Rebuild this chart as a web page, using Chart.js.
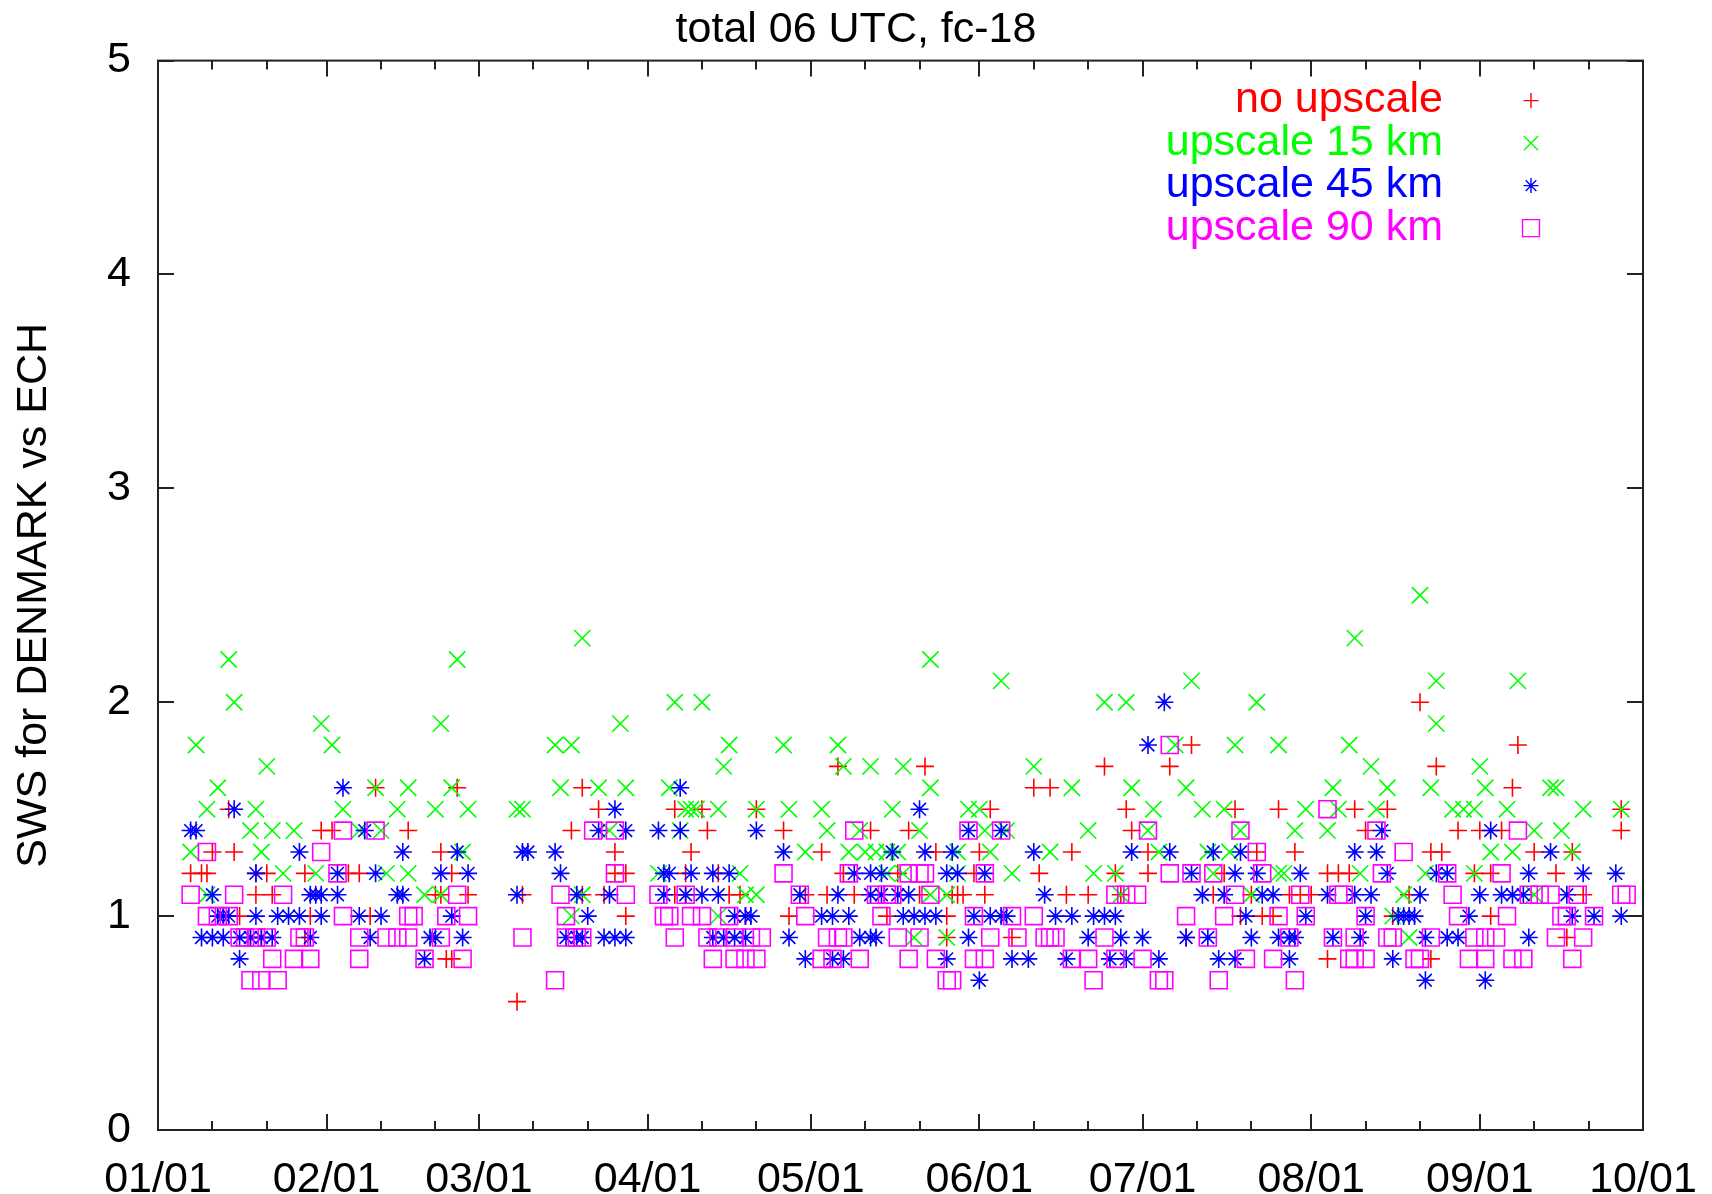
<!DOCTYPE html>
<html>
<head>
<meta charset="utf-8">
<title>SWS for DENMARK vs ECH</title>
<script src="https://cdn.jsdelivr.net/npm/chart.js@4.4.1/dist/chart.umd.min.js"></script>
<style>
  html, body { margin: 0; padding: 0; background: #fff; }
  #wrap { width: 1712px; height: 1194px; position: relative; }
</style>
</head>
<body>
<div id="wrap"><canvas id="swsChart"></canvas></div>
<script>
// x axis: day of year (0 = 01/01)
const monthDays = [0, 31, 59, 90, 120, 151, 181, 212, 243, 273];
const monthLabels = ['01/01', '02/01', '03/01', '04/01', '05/01', '06/01', '07/01', '08/01', '09/01', '10/01'];
const minorDays = [10, 20, 41, 51, 69, 79, 100, 110, 130, 140, 161, 171, 191, 201, 222, 232, 253, 263];
const yTicks = [0, 1, 2, 3, 4, 5];

const seriesNames = ['no upscale', 'upscale 15 km', 'upscale 45 km', 'upscale 90 km'];

// [day, SWS]
const noUpscale = [
  [13,1.5],[30,1.4],[32,1.4],[10,1.3],[14,1.3],[6,1.2],[8,1.2],[9,1.2],[18,1.2],[20,1.2],[27,1.2],
  [18,1.1],[21,1.1],[15,1.0],[28,1.0],[27,0.9],[17,0.9],[19,0.9],
  [40,1.6],[55,1.6],[46,1.4],[52,1.3],[35,1.2],[37,1.2],[54,1.2],[51,1.1],[52,1.1],[57,1.1],[39,1.0],
  [53,0.8],[54,0.8],[66,0.6],
  [78,1.6],[81,1.5],[95,1.5],[100,1.5],[76,1.4],[101,1.4],[84,1.3],[98,1.3],[84,1.2],[86,1.2],[97,1.2],
  [67,1.1],[78,1.1],[82,1.1],[95,1.1],[97,1.1],[86,1.0],
  [125,1.7],[110,1.5],[115,1.4],[131,1.4],[122,1.3],[103,1.2],[126,1.2],[105,1.1],[107,1.1],
  [119,1.1],[123,1.1],[128,1.1],[108,1.0],[116,1.0],
  [141,1.7],[161,1.6],[164,1.6],[153,1.5],[138,1.4],[143,1.3],[151,1.3],[168,1.3],[136,1.2],[150,1.2],
  [162,1.2],[140,1.1],[146,1.1],[147,1.1],[148,1.1],[152,1.1],[167,1.1],[134,1.0],[145,1.0],[145,0.9],[157,0.9],
  [174,1.7],[186,1.7],[190,1.8],[178,1.5],[198,1.5],[179,1.4],[182,1.3],[202,1.3],[176,1.2],[182,1.2],
  [196,1.2],[171,1.1],[177,1.1],[194,1.1],[199,1.0],[189,0.9],
  [232,2.0],[235,1.7],[206,1.5],[220,1.5],[226,1.5],[222,1.4],[209,1.3],[234,1.3],[215,1.2],[217,1.2],
  [219,1.2],[201,1.1],[208,1.1],[210,1.1],[212,1.1],[230,1.1],[203,1.0],[205,1.0],[227,1.0],[215,0.8],[234,0.8],
  [250,1.8],[249,1.6],[269,1.5],[239,1.4],[243,1.4],[247,1.4],[269,1.4],[236,1.3],[253,1.3],[260,1.3],
  [242,1.2],[245,1.2],[257,1.2],[262,1.1],[245,1.0],[259,0.9]
];

const upscale15 = [
  [13,2.2],[14,2.0],[30,1.9],[32,1.8],[7,1.8],[20,1.7],[11,1.6],[9,1.5],[18,1.5],[34,1.5],[17,1.4],[21,1.4],
  [25,1.4],[6,1.3],[19,1.3],[23,1.2],[29,1.2],[9,1.1],
  [55,2.2],[52,1.9],[40,1.6],[46,1.6],[54,1.6],[44,1.5],[51,1.5],[57,1.5],[66,1.5],[37,1.4],[41,1.4],
  [56,1.3],[42,1.2],[46,1.2],[49,1.1],[52,1.1],
  [78,2.3],[95,2.0],[100,2.0],[85,1.9],[73,1.8],[76,1.8],[74,1.6],[81,1.6],[86,1.6],[94,1.6],[67,1.5],
  [97,1.5],[98,1.5],[99,1.5],[83,1.4],[96,1.4],[92,1.2],[78,1.1],[76,1.0],
  [105,1.8],[115,1.8],[125,1.8],[104,1.7],[126,1.7],[131,1.7],[103,1.5],[110,1.5],[116,1.5],[122,1.5],
  [135,1.5],[123,1.4],[129,1.4],[119,1.3],[127,1.3],[130,1.3],[132,1.3],[134,1.3],[107,1.2],[108,1.1],
  [110,1.1],[103,1.0],
  [142,2.2],[155,2.1],[137,1.7],[161,1.7],[142,1.6],[168,1.6],[149,1.5],[151,1.5],[140,1.4],[152,1.4],
  [156,1.4],[136,1.3],[147,1.3],[153,1.3],[164,1.3],[134,1.2],[137,1.2],[147,1.2],[157,1.2],[142,1.1],
  [145,1.1],[139,0.9],[145,0.9],
  [190,2.1],[174,2.0],[178,2.0],[202,2.0],[187,1.8],[198,1.8],[179,1.6],[189,1.6],[183,1.5],[192,1.5],
  [196,1.5],[171,1.4],[182,1.4],[199,1.4],[184,1.3],[193,1.3],[197,1.3],[172,1.2],[176,1.2],[194,1.2],
  [177,1.1],[201,1.1],
  [232,2.5],[220,2.3],[235,2.1],[235,1.9],[206,1.8],[219,1.8],[223,1.7],[216,1.6],[226,1.6],[234,1.6],
  [211,1.5],[217,1.5],[224,1.5],[209,1.4],[215,1.4],[206,1.2],[207,1.2],[221,1.2],[233,1.2],[229,1.1],
  [227,1.0],[230,0.9],
  [250,2.1],[243,1.7],[244,1.6],[256,1.6],[257,1.6],[238,1.5],[240,1.5],[242,1.5],[248,1.5],[262,1.5],
  [269,1.5],[253,1.4],[258,1.4],[245,1.3],[249,1.3],[260,1.3],[242,1.2],[253,1.1]
];

const upscale45 = [
  [14,1.5],[6,1.4],[7,1.4],[26,1.3],[18,1.2],[10,1.1],[28,1.1],[29,1.1],[30,1.1],[11,1.0],[12,1.0],[13,1.0],
  [18,1.0],[22,1.0],[24,1.0],[26,1.0],[30,1.0],[8,0.9],[10,0.9],[12,0.9],[15,0.9],[17,0.9],[19,0.9],
  [21,0.9],[28,0.9],[15,0.8],
  [34,1.6],[38,1.4],[45,1.3],[55,1.3],[67,1.3],[33,1.2],[40,1.2],[52,1.2],[57,1.2],[33,1.1],[44,1.1],
  [45,1.1],[66,1.1],[37,1.0],[41,1.0],[54,1.0],[39,0.9],[50,0.9],[51,0.9],[56,0.9],[49,0.8],
  [96,1.6],[84,1.5],[81,1.4],[86,1.4],[92,1.4],[96,1.4],[68,1.3],[73,1.3],[74,1.2],[93,1.2],[94,1.2],
  [98,1.2],[77,1.1],[83,1.1],[93,1.1],[97,1.1],[100,1.1],[79,1.0],[75,0.9],[77,0.9],[78,0.9],[82,0.9],
  [84,0.9],[86,0.9],
  [110,1.4],[115,1.3],[135,1.3],[102,1.2],[105,1.2],[128,1.2],[131,1.2],[133,1.2],[103,1.1],[118,1.1],
  [125,1.1],[131,1.1],[133,1.1],[106,1.0],[108,1.0],[109,1.0],[122,1.0],[124,1.0],[127,1.0],[102,0.9],
  [104,0.9],[106,0.9],[108,0.9],[116,0.9],[129,0.9],[131,0.9],[132,0.9],[119,0.8],[124,0.8],[126,0.8],
  [140,1.5],[149,1.4],[155,1.4],[141,1.3],[146,1.3],[161,1.3],[145,1.2],[147,1.2],[152,1.2],[136,1.1],
  [138,1.1],[163,1.1],[137,1.0],[139,1.0],[141,1.0],[143,1.0],[150,1.0],[153,1.0],[155,1.0],[156,1.0],
  [165,1.0],[168,1.0],[149,0.9],[145,0.8],[157,0.8],[160,0.8],[167,0.8],[151,0.7],
  [185,2.0],[182,1.8],[179,1.3],[186,1.3],[194,1.3],[199,1.3],[190,1.2],[198,1.2],[192,1.1],[196,1.1],
  [172,1.0],[174,1.0],[176,1.0],[200,1.0],[171,0.9],[177,0.9],[181,0.9],[189,0.9],[193,0.9],[201,0.9],
  [175,0.8],[178,0.8],[184,0.8],[195,0.8],[198,0.8],
  [225,1.4],[220,1.3],[224,1.3],[202,1.2],[210,1.2],[226,1.2],[203,1.1],[205,1.1],[215,1.1],[220,1.1],
  [223,1.1],[232,1.1],[211,1.0],[222,1.0],[228,1.0],[229,1.0],[230,1.0],[231,1.0],[206,0.9],[208,0.9],
  [209,0.9],[216,0.9],[221,0.9],[233,0.9],[208,0.8],[227,0.8],[233,0.7],
  [245,1.4],[256,1.3],[235,1.2],[237,1.2],[252,1.2],[262,1.2],[268,1.2],[243,1.1],[247,1.1],[249,1.1],
  [251,1.1],[259,1.1],[241,1.0],[260,1.0],[264,1.0],[269,1.0],[237,0.9],[239,0.9],[252,0.9],[244,0.7]
];

const upscale90 = [
  [9,1.3],[30,1.3],[6,1.1],[14,1.1],[23,1.1],[9,1.0],[11,1.0],[13,1.0],[15,0.9],[16,0.9],[18,0.9],
  [20,0.9],[26,0.9],[27,0.9],[21,0.8],[25,0.8],[28,0.8],[17,0.7],[19,0.7],[22,0.7],
  [34,1.4],[40,1.4],[33,1.2],[55,1.1],[34,1.0],[46,1.0],[47,1.0],[53,1.0],[57,1.0],[37,0.9],[42,0.9],
  [44,0.9],[46,0.9],[52,0.9],[67,0.9],[37,0.8],[49,0.8],[56,0.8],
  [80,1.4],[84,1.4],[84,1.2],[74,1.1],[86,1.1],[92,1.1],[97,1.1],[75,1.0],[93,1.0],[94,1.0],[98,1.0],
  [100,1.0],[75,0.9],[77,0.9],[78,0.9],[95,0.9],[101,0.9],[102,0.8],[73,0.7],
  [128,1.4],[115,1.2],[127,1.2],[118,1.1],[132,1.1],[134,1.1],[105,1.0],[119,1.0],[133,1.0],[103,0.9],
  [106,0.9],[109,0.9],[111,0.9],[123,0.9],[125,0.9],[126,0.9],[106,0.8],[108,0.8],[110,0.8],[122,0.8],
  [124,0.8],[129,0.8],
  [149,1.4],[155,1.4],[138,1.2],[140,1.2],[141,1.2],[152,1.2],[135,1.1],[142,1.1],[150,1.0],[157,1.0],
  [161,1.0],[136,0.9],[140,0.9],[153,0.9],[158,0.9],[163,0.9],[164,0.9],[165,0.9],[138,0.8],[143,0.8],
  [150,0.8],[152,0.8],[168,0.8],[145,0.7],[146,0.7],
  [186,1.8],[182,1.4],[199,1.4],[186,1.2],[190,1.2],[194,1.2],[176,1.1],[178,1.1],[180,1.1],[198,1.1],
  [189,1.0],[196,1.0],[174,0.9],[193,0.9],[171,0.8],[176,0.8],[181,0.8],[200,0.8],[172,0.7],[184,0.7],
  [185,0.7],[195,0.7],
  [215,1.5],[224,1.4],[202,1.3],[229,1.3],[203,1.2],[225,1.2],[210,1.1],[217,1.1],[218,1.1],[206,1.0],
  [211,1.0],[222,1.0],[208,0.9],[216,0.9],[220,0.9],[226,0.9],[227,0.9],[234,0.9],[205,0.8],[219,0.8],
  [220,0.8],[222,0.8],[231,0.8],[232,0.8],[209,0.7],
  [250,1.4],[237,1.2],[247,1.2],[238,1.1],[252,1.1],[254,1.1],[256,1.1],[261,1.1],[269,1.1],[270,1.1],
  [239,1.0],[248,1.0],[258,1.0],[259,1.0],[264,1.0],[242,0.9],[244,0.9],[246,0.9],[257,0.9],[262,0.9],
  [241,0.8],[244,0.8],[249,0.8],[251,0.8],[260,0.8]
];

const colors = ['#ff0000', '#00ff00', '#0000ff', '#ff00ff'];
const markers = [
  { pointStyle: 'cross', radius: 9 },
  { pointStyle: 'crossRot', radius: 11.5 },
  { pointStyle: 'star', radius: 9 },
  { pointStyle: 'rect', radius: 12 }
];
const legendMarkers = [
  { pointStyle: 'cross', radius: 7.5 },
  { pointStyle: 'crossRot', radius: 10 },
  { pointStyle: 'star', radius: 7.5 },
  { pointStyle: 'rect', radius: 12 }
];

const FONT = '"Liberation Sans", Arial, Helvetica, sans-serif';
const FONT_SIZE = 43;
const PLOT_RIGHT_GAP = 69;

function toPoints(arr) {
  return arr.map(p => ({ x: p[0], y: p[1] }));
}

const allSeries = [noUpscale, upscale15, upscale45, upscale90];
const datasets = allSeries.map((s, i) => ({
  label: seriesNames[i],
  data: toPoints(s),
  showLine: false,
  pointStyle: markers[i].pointStyle,
  pointRadius: markers[i].radius,
  pointHoverRadius: markers[i].radius,
  pointBorderWidth: 1.6,
  pointBackgroundColor: 'rgba(0,0,0,0)',
  pointBorderColor: colors[i],
  // gnuplot order: later series drawn on top
  order: 4 - i
}));

// border box with inward ticks on all four sides
const frameTicks = {
  id: 'frameTicks',
  afterDatasetsDraw(chart) {
    const { ctx, chartArea: a, scales: { x, y } } = chart;
    ctx.save();
    ctx.strokeStyle = '#222';
    ctx.lineWidth = 2;
    ctx.beginPath();
    monthDays.forEach(d => {
      const px = Math.round(x.getPixelForValue(d));
      ctx.moveTo(px, a.bottom); ctx.lineTo(px, a.bottom - 16);
      ctx.moveTo(px, a.top); ctx.lineTo(px, a.top + 16);
    });
    minorDays.forEach(d => {
      const px = Math.round(x.getPixelForValue(d));
      ctx.moveTo(px, a.bottom); ctx.lineTo(px, a.bottom - 9);
      ctx.moveTo(px, a.top); ctx.lineTo(px, a.top + 9);
    });
    yTicks.forEach(v => {
      const py = Math.round(y.getPixelForValue(v));
      ctx.moveTo(a.left, py); ctx.lineTo(a.left + 16, py);
      ctx.moveTo(a.right, py); ctx.lineTo(a.right - 16, py);
    });
    ctx.stroke();
    ctx.strokeRect(a.left, a.top, a.right - a.left, a.bottom - a.top);
    ctx.restore();
  }
};

// key in the top right corner: right-aligned text, sample marker to its right
const keyBox = {
  id: 'keyBox',
  afterDraw(chart) {
    const { ctx, chartArea: a } = chart;
    const textRight = a.right - 200;
    const markX = a.right - 112;
    ctx.save();
    ctx.font = FONT_SIZE + 'px ' + FONT;
    ctx.textAlign = 'right';
    ctx.textBaseline = 'middle';
    seriesNames.forEach((name, i) => {
      const cy = a.top + 40 + i * 42.5;
      ctx.fillStyle = colors[i];
      ctx.fillText(name, textRight, cy);
      ctx.strokeStyle = colors[i];
      ctx.fillStyle = 'rgba(0,0,0,0)';
      ctx.lineWidth = 1.4;
      Chart.helpers.drawPoint(ctx, {
        pointStyle: legendMarkers[i].pointStyle,
        radius: legendMarkers[i].radius,
        rotation: 0,
        borderWidth: 1.4
      }, markX, cy);
    });
    ctx.restore();
  }
};

new Chart(document.getElementById('swsChart'), {
  type: 'scatter',
  data: { datasets },
  plugins: [frameTicks, keyBox],
  options: {
    responsive: true,
    maintainAspectRatio: false,
    animation: false,
    events: [],
    layout: { padding: { left: 0, right: 0, top: 0, bottom: 0 } },
    plugins: {
      legend: { display: false },
      tooltip: { enabled: false },
      title: {
        display: true,
        text: 'total 06 UTC, fc-18',
        color: '#000',
        font: { family: FONT, size: FONT_SIZE, weight: 'normal' },
        padding: { top: 4, bottom: 5 }
      }
    },
    scales: {
      x: {
        type: 'linear',
        min: 0,
        max: 273,
        grid: { display: false, drawTicks: false },
        border: { display: false },
        afterBuildTicks(scale) {
          scale.ticks = monthDays.map(v => ({ value: v }));
        },
        afterFit(scale) {
          scale.height = 64;
          scale.paddingLeft = 0;
          scale.paddingRight = PLOT_RIGHT_GAP;
        },
        ticks: {
          autoSkip: false,
          maxRotation: 0,
          padding: 24,
          color: '#000',
          font: { family: FONT, size: FONT_SIZE },
          callback: v => monthLabels[monthDays.indexOf(v)]
        }
      },
      y: {
        min: 0,
        max: 5,
        grid: { display: false, drawTicks: false },
        border: { display: false },
        afterFit(scale) { scale.width = 158; },
        ticks: {
          stepSize: 1,
          padding: 27,
          color: '#000',
          font: { family: FONT, size: FONT_SIZE }
        },
        title: {
          display: true,
          text: 'SWS for DENMARK vs ECH',
          color: '#000',
          font: { family: FONT, size: FONT_SIZE },
          padding: { top: 8, bottom: 0 }
        }
      }
    }
  }
});
</script>
</body>
</html>
